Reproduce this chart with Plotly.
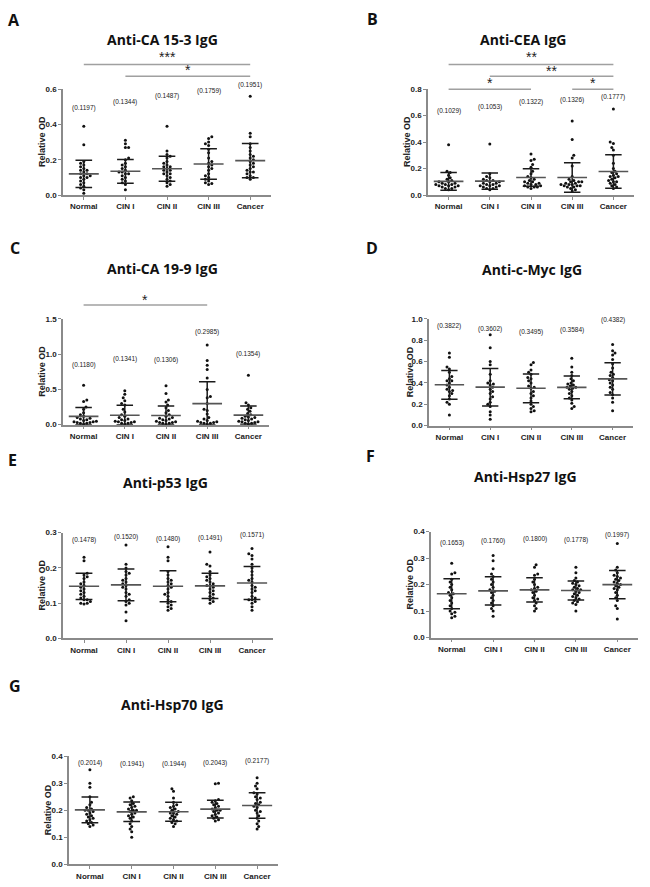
import plotly.graph_objects as go

W, H = 650, 887
categories = ["Normal", "CIN I", "CIN II", "CIN III", "Cancer"]
titles = ["Anti-CA 15-3 IgG", "Anti-CEA IgG", "Anti-CA 19-9 IgG", "Anti-c-Myc IgG",
          "Anti-p53 IgG", "Anti-Hsp27 IgG", "Anti-Hsp70 IgG"]
letters = ["A", "B", "C", "D", "E", "F", "G"]

# ---------------- data ----------------
ca153_values = [
    [0.39, 0.285, 0.19, 0.18, 0.17, 0.16, 0.15, 0.14, 0.14, 0.13, 0.12, 0.12, 0.11, 0.11, 0.10, 0.10, 0.09, 0.08, 0.07, 0.06, 0.05, 0.04, 0.03, 0.01],
    [0.31, 0.29, 0.27, 0.27, 0.21, 0.20, 0.18, 0.17, 0.16, 0.15, 0.14, 0.13, 0.13, 0.12, 0.12, 0.11, 0.10, 0.09, 0.08, 0.07, 0.06, 0.03],
    [0.39, 0.25, 0.23, 0.22, 0.21, 0.19, 0.18, 0.17, 0.16, 0.16, 0.15, 0.14, 0.14, 0.13, 0.12, 0.12, 0.11, 0.10, 0.09, 0.08, 0.07, 0.06, 0.05],
    [0.33, 0.32, 0.30, 0.29, 0.28, 0.26, 0.24, 0.21, 0.19, 0.18, 0.17, 0.16, 0.15, 0.14, 0.12, 0.11, 0.10, 0.09, 0.08, 0.07, 0.065, 0.06],
    [0.56, 0.35, 0.33, 0.29, 0.27, 0.25, 0.23, 0.22, 0.21, 0.20, 0.19, 0.18, 0.17, 0.16, 0.15, 0.14, 0.13, 0.13, 0.12, 0.11, 0.10, 0.10, 0.09],
]
ca153_mean = [0.1197, 0.1344, 0.1487, 0.1759, 0.1951]
ca153_sd = [0.077, 0.067, 0.071, 0.086, 0.097]

cea_values = [
    [0.38, 0.18, 0.17, 0.15, 0.13, 0.12, 0.11, 0.10, 0.10, 0.09, 0.09, 0.08, 0.08, 0.08, 0.07, 0.07, 0.07, 0.06, 0.06, 0.05, 0.05, 0.04],
    [0.385, 0.16, 0.14, 0.13, 0.12, 0.11, 0.11, 0.10, 0.10, 0.09, 0.09, 0.08, 0.08, 0.07, 0.07, 0.07, 0.06, 0.06, 0.05, 0.05, 0.04],
    [0.31, 0.27, 0.26, 0.23, 0.21, 0.18, 0.16, 0.14, 0.13, 0.12, 0.11, 0.10, 0.10, 0.09, 0.09, 0.08, 0.08, 0.07, 0.07, 0.06, 0.06, 0.06, 0.05],
    [0.56, 0.42, 0.30, 0.28, 0.22, 0.14, 0.12, 0.11, 0.10, 0.10, 0.10, 0.09, 0.09, 0.08, 0.08, 0.08, 0.07, 0.07, 0.07, 0.06, 0.06, 0.05, 0.04, 0.03],
    [0.65, 0.40, 0.39, 0.36, 0.34, 0.30, 0.24, 0.20, 0.18, 0.17, 0.16, 0.15, 0.14, 0.14, 0.13, 0.12, 0.11, 0.10, 0.10, 0.09, 0.08, 0.07, 0.06, 0.05],
]
cea_mean = [0.1029, 0.1053, 0.1322, 0.1326, 0.1777]
cea_sd = [0.067, 0.062, 0.066, 0.112, 0.126]

ca199_values = [
    [0.56, 0.35, 0.33, 0.25, 0.22, 0.17, 0.14, 0.12, 0.10, 0.09, 0.08, 0.07, 0.06, 0.05, 0.04, 0.04, 0.03, 0.03, 0.02, 0.02, 0.01],
    [0.48, 0.43, 0.38, 0.34, 0.30, 0.28, 0.22, 0.18, 0.14, 0.12, 0.10, 0.08, 0.07, 0.06, 0.05, 0.04, 0.04, 0.03, 0.02, 0.02, 0.01],
    [0.55, 0.44, 0.35, 0.32, 0.28, 0.24, 0.20, 0.17, 0.14, 0.12, 0.10, 0.09, 0.08, 0.07, 0.06, 0.05, 0.04, 0.03, 0.03, 0.02, 0.02, 0.01],
    [1.13, 0.91, 0.84, 0.78, 0.66, 0.50, 0.40, 0.38, 0.30, 0.22, 0.20, 0.15, 0.10, 0.08, 0.06, 0.05, 0.04, 0.03, 0.03, 0.02, 0.02, 0.01],
    [0.70, 0.31, 0.28, 0.24, 0.22, 0.19, 0.16, 0.14, 0.12, 0.11, 0.10, 0.09, 0.08, 0.07, 0.06, 0.05, 0.04, 0.04, 0.03, 0.02, 0.02, 0.01],
]
ca199_mean = [0.1180, 0.1341, 0.1306, 0.2985, 0.1354]
ca199_sd = [0.125, 0.14, 0.135, 0.31, 0.13]

cmyc_values = [
    [0.68, 0.64, 0.55, 0.53, 0.50, 0.46, 0.44, 0.42, 0.42, 0.40, 0.38, 0.36, 0.34, 0.33, 0.32, 0.30, 0.28, 0.25, 0.22, 0.20, 0.10],
    [0.85, 0.73, 0.60, 0.57, 0.48, 0.42, 0.40, 0.39, 0.38, 0.36, 0.34, 0.32, 0.30, 0.27, 0.25, 0.22, 0.20, 0.18, 0.13, 0.10, 0.06],
    [0.59, 0.57, 0.52, 0.50, 0.48, 0.45, 0.44, 0.42, 0.40, 0.37, 0.36, 0.35, 0.32, 0.30, 0.28, 0.26, 0.23, 0.20, 0.18, 0.16, 0.14, 0.13],
    [0.63, 0.55, 0.50, 0.47, 0.44, 0.42, 0.40, 0.39, 0.38, 0.37, 0.36, 0.36, 0.35, 0.34, 0.32, 0.30, 0.28, 0.26, 0.24, 0.21, 0.18, 0.16],
    [0.76, 0.70, 0.68, 0.66, 0.62, 0.58, 0.54, 0.50, 0.48, 0.47, 0.45, 0.43, 0.42, 0.40, 0.38, 0.36, 0.34, 0.31, 0.29, 0.26, 0.22, 0.14],
]
cmyc_mean = [0.3822, 0.3602, 0.3495, 0.3584, 0.4382]
cmyc_sd = [0.135, 0.175, 0.134, 0.106, 0.151]

p53_values = [
    [0.23, 0.22, 0.185, 0.18, 0.175, 0.17, 0.16, 0.155, 0.15, 0.145, 0.14, 0.135, 0.13, 0.125, 0.12, 0.115, 0.11, 0.11, 0.105, 0.10, 0.10, 0.098],
    [0.265, 0.21, 0.20, 0.19, 0.185, 0.18, 0.17, 0.165, 0.16, 0.155, 0.15, 0.145, 0.14, 0.13, 0.125, 0.12, 0.11, 0.105, 0.10, 0.095, 0.075, 0.05],
    [0.26, 0.23, 0.22, 0.19, 0.18, 0.17, 0.165, 0.16, 0.155, 0.15, 0.145, 0.14, 0.13, 0.125, 0.12, 0.11, 0.105, 0.10, 0.095, 0.09, 0.085, 0.08],
    [0.245, 0.21, 0.205, 0.19, 0.18, 0.175, 0.17, 0.165, 0.16, 0.155, 0.15, 0.15, 0.145, 0.14, 0.135, 0.13, 0.125, 0.12, 0.115, 0.11, 0.105, 0.10],
    [0.255, 0.24, 0.235, 0.225, 0.21, 0.20, 0.19, 0.18, 0.17, 0.165, 0.16, 0.15, 0.145, 0.14, 0.135, 0.13, 0.12, 0.115, 0.11, 0.11, 0.105, 0.10, 0.09, 0.08],
]
p53_mean = [0.1478, 0.1520, 0.1480, 0.1491, 0.1571]
p53_sd = [0.037, 0.045, 0.044, 0.036, 0.047]

hsp27_values = [
    [0.28, 0.245, 0.24, 0.22, 0.21, 0.20, 0.19, 0.18, 0.17, 0.165, 0.16, 0.15, 0.14, 0.13, 0.12, 0.11, 0.10, 0.095, 0.09, 0.08, 0.075],
    [0.31, 0.29, 0.26, 0.24, 0.23, 0.22, 0.21, 0.20, 0.19, 0.18, 0.175, 0.17, 0.16, 0.15, 0.14, 0.13, 0.12, 0.11, 0.10, 0.08],
    [0.275, 0.265, 0.24, 0.235, 0.22, 0.21, 0.20, 0.19, 0.185, 0.18, 0.175, 0.17, 0.16, 0.15, 0.145, 0.14, 0.13, 0.12, 0.11, 0.10],
    [0.265, 0.245, 0.225, 0.215, 0.21, 0.205, 0.20, 0.195, 0.19, 0.185, 0.18, 0.18, 0.175, 0.17, 0.165, 0.16, 0.155, 0.15, 0.145, 0.14, 0.135, 0.13, 0.125, 0.10],
    [0.355, 0.265, 0.255, 0.245, 0.235, 0.23, 0.225, 0.22, 0.215, 0.21, 0.205, 0.20, 0.195, 0.19, 0.185, 0.18, 0.17, 0.16, 0.15, 0.14, 0.12, 0.11, 0.07],
]
hsp27_mean = [0.1653, 0.1760, 0.1800, 0.1778, 0.1997]
hsp27_sd = [0.057, 0.053, 0.046, 0.036, 0.053]

hsp70_values = [
    [0.35, 0.30, 0.285, 0.25, 0.23, 0.22, 0.21, 0.205, 0.20, 0.20, 0.195, 0.19, 0.185, 0.18, 0.175, 0.17, 0.165, 0.16, 0.155, 0.15, 0.145, 0.14],
    [0.25, 0.245, 0.235, 0.225, 0.22, 0.215, 0.21, 0.205, 0.20, 0.20, 0.195, 0.19, 0.185, 0.18, 0.175, 0.17, 0.16, 0.15, 0.14, 0.13, 0.12, 0.10],
    [0.28, 0.27, 0.245, 0.23, 0.22, 0.215, 0.21, 0.205, 0.20, 0.195, 0.19, 0.19, 0.185, 0.18, 0.175, 0.17, 0.165, 0.16, 0.155, 0.15, 0.14],
    [0.30, 0.298, 0.24, 0.235, 0.23, 0.225, 0.22, 0.215, 0.21, 0.205, 0.20, 0.20, 0.195, 0.19, 0.185, 0.18, 0.175, 0.17, 0.165, 0.16],
    [0.32, 0.30, 0.29, 0.28, 0.265, 0.26, 0.25, 0.245, 0.24, 0.23, 0.225, 0.22, 0.215, 0.21, 0.20, 0.195, 0.19, 0.18, 0.17, 0.16, 0.15, 0.14, 0.13],
]
hsp70_mean = [0.2014, 0.1941, 0.1944, 0.2043, 0.2177]
hsp70_sd = [0.048, 0.036, 0.035, 0.033, 0.047]

ca153_sig = [(0, 4, "***"), (1, 4, "*")]
cea_sig = [(0, 4, "**"), (1, 4, "**"), (0, 2, "*"), (3, 4, "*")]
ca199_sig = [(0, 3, "*")]

all_values = [ca153_values, cea_values, ca199_values, cmyc_values, p53_values, hsp27_values, hsp70_values]
all_means = [ca153_mean, cea_mean, ca199_mean, cmyc_mean, p53_mean, hsp27_mean, hsp70_mean]
all_sds = [ca153_sd, cea_sd, ca199_sd, cmyc_sd, p53_sd, hsp27_sd, hsp70_sd]
all_sigs = [ca153_sig, cea_sig, ca199_sig, [], [], [], []]
y_max = [0.6, 0.8, 1.5, 1.0, 0.3, 0.4, 0.4]
y_dtick = [0.2, 0.2, 0.5, 0.2, 0.1, 0.1, 0.1]

# ---------------- layout geometry (pixels) ----------------
panel_box = [  # x0, x1, ytop, ybot
    (63, 271, 86, 193), (428, 634, 86, 193),
    (63, 269, 318, 425), (429, 633, 318, 426),
    (63, 273, 534, 641), (431, 638, 533, 640),
    (69, 278, 760, 869),
]
title_pos = [(163, 36), (523, 36), (162, 267), (532, 268), (165, 483), (525, 477), (173, 708)]
letter_pos = [(14, 16), (372, 15), (15, 247), (372, 246), (12, 461), (370, 457), (15, 689)]
ylab_x = [42, 407, 42, 410, 42, 410, 48]
label_py = [
    [105, 99, 93, 88, 82], [108, 104, 99, 97, 94], [365, 359, 360, 331, 354],
    [325, 328, 331, 329, 319], [541, 538, 540, 539, 536], [545, 543, 540, 541, 536],
    [767, 768, 768, 767, 765],
]
bracket_py = [[(61, 54), (73, 67)], [(61, 54), (73, 68), (86, 80), (86, 80)], [(304, 299)], [], [], [], []]

def px_x(p):
    return p / W

def px_y(p):
    return 1 - p / H

def swarm(vals, py_per_unit, px_per_unit, d=3.0):
    placed = []
    offs = [0.0] * len(vals)
    order = sorted(range(len(vals)), key=lambda i: vals[i])
    for n, i in enumerate(order):
        y = vals[i] * py_per_unit
        best = None
        for step in range(0, 40):
            for sgn in ((1, -1) if n % 2 else (-1, 1)):
                x = sgn * step * 0.8
                if all((x - a) ** 2 + (y - b) ** 2 >= d * d for a, b in placed):
                    best = x
                    break
            if best is not None:
                break
        placed.append((best, y))
        offs[i] = best / px_per_unit
    return offs

fig = go.Figure()
annotations = []
shapes = []
bold_font = "Liberation Sans"
title_font = "Open Sans"

for k in range(7):
    sx = "" if k == 0 else str(k + 1)
    xref, yref = "x" + sx, "y" + sx
    x0, x1, yt, yb = panel_box[k]
    px_per_unit = (x1 - x0) / 5.0
    py_per_unit = (yb - yt) / y_max[k]

    xs, ys = [], []
    for i, vals in enumerate(all_values[k]):
        offs = swarm(vals, py_per_unit, px_per_unit)
        xs += [i + o for o in offs]
        ys += vals
    fig.add_trace(go.Scatter(x=xs, y=ys, mode="markers", xaxis=xref, yaxis=yref,
                             marker=dict(color="#111", size=3.0), cliponaxis=False,
                             showlegend=False, hoverinfo="y"))

    ex, ey, mx, my = [], [], [], []
    for i, (m, s) in enumerate(zip(all_means[k], all_sds[k])):
        lo, hi = max(m - s, 0), m + s
        ex += [i, i, None, i - 0.2, i + 0.2, None, i - 0.2, i + 0.2, None]
        ey += [lo, hi, None, lo, lo, None, hi, hi, None]
        mx += [i - 0.36, i + 0.36, None]
        my += [m, m, None]
    fig.add_trace(go.Scatter(x=ex, y=ey, mode="lines", xaxis=xref, yaxis=yref,
                             line=dict(color="#1a1a1a", width=1.5), cliponaxis=False,
                             showlegend=False, hoverinfo="skip"))
    fig.add_trace(go.Scatter(x=mx, y=my, mode="lines", xaxis=xref, yaxis=yref,
                             line=dict(color="#555", width=1.6), cliponaxis=False,
                             showlegend=False, hoverinfo="skip"))

    axis_common = dict(showline=True, linecolor="#8a8a8a", linewidth=1.5, ticks="outside",
                       ticklen=3, tickwidth=1, tickcolor="#8a8a8a", showgrid=False,
                       zeroline=False, fixedrange=True)
    fig.update_layout(**{
        "xaxis" + sx: dict(domain=[px_x(x0), px_x(x1)], anchor=yref, range=[-0.5, 4.5],
                           tickvals=list(range(5)), ticktext=categories,
                           tickfont=dict(family=bold_font, size=8, color="#222", weight="bold"),
                           **axis_common),
        "yaxis" + sx: dict(domain=[px_y(yb), px_y(yt)], anchor=xref, range=[0, y_max[k]],
                           dtick=y_dtick[k], tickformat=".1f",
                           tickfont=dict(family=bold_font, size=8, color="#222", weight="bold"),
                           **axis_common),
    })

    tx, ty = title_pos[k]
    annotations.append(dict(text=titles[k], x=px_x(tx), y=px_y(ty), xref="paper", yref="paper",
                            showarrow=False, xanchor="center", yanchor="middle",
                            font=dict(family=title_font, size=14, color="#111", weight="bold")))
    lx, ly = letter_pos[k]
    annotations.append(dict(text=letters[k], x=px_x(lx), y=px_y(ly), xref="paper", yref="paper",
                            showarrow=False, xanchor="center", yanchor="middle",
                            font=dict(family=title_font, size=16, color="#111", weight="bold")))
    annotations.append(dict(text="Relative OD", x=px_x(ylab_x[k]), y=px_y((yt + yb) / 2),
                            xref="paper", yref="paper", showarrow=False, textangle=-90,
                            xanchor="center", yanchor="middle",
                            font=dict(family=bold_font, size=9, color="#222", weight="bold")))
    for i, m in enumerate(all_means[k]):
        annotations.append(dict(text="(%.4f)" % m, x=i, xref=xref, y=px_y(label_py[k][i]),
                                yref="paper", showarrow=False, xanchor="center", yanchor="middle",
                                font=dict(family=bold_font, size=6.5, color="#222")))
    for (a, b, stars), (lyy, syy) in zip(all_sigs[k], bracket_py[k]):
        shapes.append(dict(type="line", xref=xref, yref="paper", x0=a, x1=b,
                           y0=px_y(lyy), y1=px_y(lyy), line=dict(color="#a0a0a0", width=1.5)))
        annotations.append(dict(text=stars, x=(a + b) / 2, xref=xref, y=px_y(syy), yref="paper",
                                showarrow=False, xanchor="center", yanchor="middle",
                                font=dict(family=bold_font, size=14, color="#222")))

fig.update_layout(width=W, height=H, margin=dict(l=0, r=0, t=0, b=0),
                  paper_bgcolor="white", plot_bgcolor="white",
                  annotations=annotations, shapes=shapes, showlegend=False)

fig.write_html("out.html", config={"displayModeBar": False},
               post_script="document.body.style.margin='0';document.body.style.overflow='hidden';")
